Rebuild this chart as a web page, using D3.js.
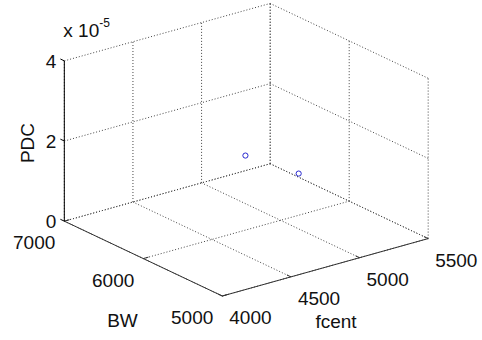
<!DOCTYPE html>
<html>
<head>
<meta charset="utf-8">
<script src="https://cdn.jsdelivr.net/npm/d3@7"></script>
<style>
  html, body { margin: 0; padding: 0; background: #fff; }
  svg { display: block; font-family: "Liberation Sans", Arial, sans-serif; }
</style>
</head>
<body>
<div id="chart"></div>
<script>
// Data points (fcent, BW, PDC)
const fcent = [4744, 5132];
const bw = [6000, 6000];
const pdc = [1.86e-5, 1.04e-5];

const fcentTicks = [4000, 4500, 5000, 5500];
const bwTicks = [5000, 6000, 7000];
const pdcTicks = [0, 2e-5, 4e-5];

const width = 482, height = 340;

const svg = d3.select('#chart').append('svg')
  .attr('width', width)
  .attr('height', height);

// Normalised box coordinates
const x = d3.scaleLinear().domain([4000, 5500]).range([0, 1]);
const y = d3.scaleLinear().domain([5000, 7000]).range([0, 1]);
const z = d3.scaleLinear().domain([0, 4e-5]).range([0, 1]);

// MATLAB default view az = -37.5, el = 30, stretched to fill
const az = -37.5 * Math.PI / 180, el = 30 * Math.PI / 180;
const L = 259.5, k = 0.727, zLen = 160.3;
const ox = 222.3, oy = 296;

function project(u, v, w) {
  const sx = ox + L * (u * Math.cos(az) + v * Math.sin(az));
  const sy = oy - k * L * Math.sin(el) * (-u * Math.sin(az) + v * Math.cos(az)) - zLen * w;
  return [sx, sy];
}
const P = (f, b, p) => project(x(f), y(b), z(p));

const line = d3.line();

const grid = svg.append('g')
  .attr('fill', 'none')
  .attr('stroke', '#444')
  .attr('stroke-width', 1)
  .attr('stroke-dasharray', '1 2');

const [f0, f1] = x.domain(), [b0, b1] = y.domain(), [p0, p1] = z.domain();

// floor grid
fcentTicks.forEach(f => grid.append('path').attr('d', line([P(f, b0, p0), P(f, b1, p0)])));
bwTicks.forEach(b => grid.append('path').attr('d', line([P(f0, b, p0), P(f1, b, p0)])));
// back wall BW = 7000
fcentTicks.forEach(f => grid.append('path').attr('d', line([P(f, b1, p0), P(f, b1, p1)])));
pdcTicks.forEach(p => grid.append('path').attr('d', line([P(f0, b1, p), P(f1, b1, p)])));
// side wall fcent = 5500
bwTicks.forEach(b => grid.append('path').attr('d', line([P(f1, b, p0), P(f1, b, p1)])));
pdcTicks.forEach(p => grid.append('path').attr('d', line([P(f1, b0, p), P(f1, b1, p)])));

// axes
const axes = svg.append('g').attr('fill', 'none').attr('stroke', '#333').attr('stroke-width', 1);
axes.append('path').attr('d', line([P(f0, b0, p0), P(f1, b0, p0)]));
axes.append('path').attr('d', line([P(f0, b0, p0), P(f0, b1, p0)]));
axes.append('path').attr('d', line([P(f0, b1, p0), P(f0, b1, p1)])).attr('stroke', '#000');

const tl = 0.025;
fcentTicks.forEach(f => {
  const a = P(f, b0, p0), b = project(x(f), tl, 0);
  axes.append('path').attr('d', line([a, b]));
});
bwTicks.forEach(bv => {
  const a = P(f0, bv, p0), b = project(tl, y(bv), 0);
  axes.append('path').attr('d', line([a, b]));
});
pdcTicks.forEach(p => {
  const a = P(f0, b1, p), b = project(0, 1 + tl, z(p));
  axes.append('path').attr('d', line([a, b])).attr('stroke', '#000');
});

// tick labels
const fs = 19;
const labels = svg.append('g').attr('font-size', fs).attr('fill', '#111');

fcentTicks.forEach(f => {
  const [sx, sy] = P(f, b0, p0);
  labels.append('text').attr('x', sx + 7).attr('y', sy + 28)
    .text(f);
});
bwTicks.forEach(bv => {
  const [sx, sy] = P(f0, bv, p0);
  labels.append('text').attr('x', sx - 9).attr('y', sy + 28)
    .attr('text-anchor', 'end').text(bv);
});
pdcTicks.forEach(p => {
  const [sx, sy] = P(f0, b1, p);
  labels.append('text').attr('x', sx - 8).attr('y', sy + 7)
    .attr('text-anchor', 'end').text(d3.format('d')(p / 1e-5));
});

// exponent
const [ex, ey] = P(f0, b1, p1);
const expo = labels.append('text').attr('x', ex - 1).attr('y', ey - 24);
expo.append('tspan').text('x 10');
expo.append('tspan').attr('font-size', 12).attr('dy', -10).text('-5');

// axis titles
labels.append('text').attr('x', 122.5).attr('y', 327).attr('text-anchor', 'middle').text('BW');
labels.append('text').attr('x', 336).attr('y', 328).attr('text-anchor', 'middle').text('fcent');
labels.append('text').attr('transform', 'translate(34,143) rotate(-90)')
  .attr('text-anchor', 'middle').text('PDC');

// points
svg.append('g').selectAll('circle')
  .data(d3.range(fcent.length))
  .join('circle')
  .attr('cx', i => P(fcent[i], bw[i], pdc[i])[0])
  .attr('cy', i => P(fcent[i], bw[i], pdc[i])[1])
  .attr('r', 2.6)
  .attr('fill', 'none')
  .attr('stroke', '#2828d0')
  .attr('stroke-width', 1);
</script>
</body>
</html>
